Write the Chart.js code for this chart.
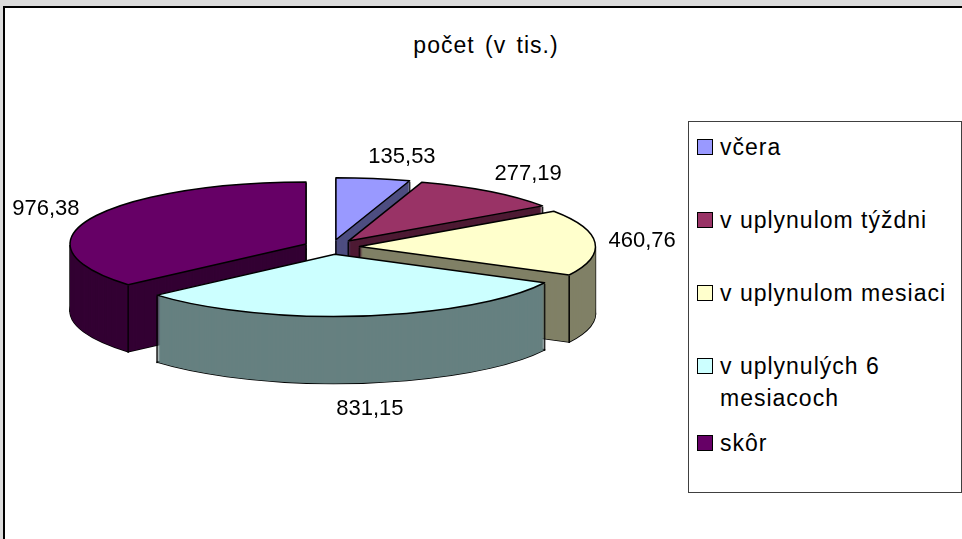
<!DOCTYPE html>
<html>
<head>
<meta charset="utf-8">
<script src="https://cdn.jsdelivr.net/npm/chart.js@4"></script>
<style>
  html, body { margin: 0; padding: 0; }
  body { width: 962px; height: 539px; overflow: hidden; background: #dcdcdc; position: relative; font-family: "Liberation Sans", Arial, sans-serif; }
  #frame { position: absolute; left: 3px; top: 6px; width: 1000px; height: 600px; background: #fff; border-top: 2px solid #000; border-left: 2px solid #000; }
  #title { position: absolute; left: 0; width: 972px; top: 32px; text-align: center; font-size: 23px; letter-spacing: 1px; word-spacing: 3px; color: #000; }
  #pie { position: absolute; left: 0; top: 0; }
  #legend { position: absolute; left: 688px; top: 121px; width: 274px; height: 372px; box-sizing: border-box; border: 1px solid #404040; background: #fff; padding: 9px 0 0 8px; }
  .item { display: flex; align-items: flex-start; font-size: 23px; line-height: 32px; letter-spacing: 1px; margin-bottom: 41px; color: #000; }
  .item:nth-child(4) { margin-bottom: 13px; }
  .sw { width: 14px; height: 14px; border: 1px solid #000; margin: 8px 7px 0 0; flex: none; }
</style>
</head>
<body>
<div id="frame"></div>
<div id="title">počet (v tis.)</div>
<canvas id="pie" width="962" height="539"></canvas>
<div id="legend"></div>
<script>
const categories = ['včera', 'v uplynulom týždni', 'v uplynulom mesiaci', 'v uplynulých 6 mesiacoch', 'skôr'];
const values = [135.53, 277.19, 460.76, 831.15, 976.38];
const topColors = ['#9999ff', '#993366', '#ffffcc', '#ccffff', '#660066'];
const sideColors = ['#4d4d80', '#4d1a33', '#808066', '#668080', '#330033'];

// look of the 3d pie
const RATIO = 0.263;   // vertical squash of the disc
const DEPTH = 67;      // thickness in px
const EXPLODE = 28;    // slice pull-out
const LGAP = 22;       // label distance

const fmt = v => v.toFixed(2).replace('.', ',');

// legend (html so it can wrap like the original)
const legend = document.getElementById('legend');
categories.forEach((c, i) => {
  const row = document.createElement('div');
  row.className = 'item';
  const sw = document.createElement('div');
  sw.className = 'sw';
  sw.style.background = topColors[i];
  const t = document.createElement('div');
  t.textContent = c;
  row.appendChild(sw);
  row.appendChild(t);
  legend.appendChild(row);
});

const pie3d = {
  id: 'pie3d',
  beforeDatasetsDraw(chart) {
    const ctx = chart.ctx;
    const arcs = chart.getDatasetMeta(0).data;
    const slices = arcs.map((arc, i) => {
      const p = arc.getProps(['x', 'y', 'startAngle', 'endAngle', 'outerRadius'], true);
      const mid = (p.startAngle + p.endAngle) / 2;
      return Object.assign({}, p, { i, mid, ox: p.x + Math.cos(mid) * EXPLODE, oy: p.y + Math.sin(mid) * EXPLODE });
    });
    const cy = slices[0].y;
    const pt = (x, y, k) => [x, cy + (y - cy) * RATIO + k];

    const path = (s, k) => {
      ctx.save();
      ctx.translate(0, k + cy);
      ctx.scale(1, RATIO);
      ctx.translate(0, -cy);
      ctx.beginPath();
      ctx.moveTo(s.ox, s.oy);
      ctx.arc(s.ox, s.oy, s.outerRadius, s.startAngle, s.endAngle);
      ctx.closePath();
      ctx.restore();
    };

    // points where a vertical edge may show: apex, both arc ends, left/right extremes
    const corners = s => {
      const pts = [[s.ox, s.oy]];
      const angs = [s.startAngle, s.endAngle];
      [0, Math.PI].forEach(a => { if (a > s.startAngle && a < s.endAngle) angs.push(a); });
      angs.forEach(a => pts.push([s.ox + Math.cos(a) * s.outerRadius, s.oy + Math.sin(a) * s.outerRadius]));
      return pts;
    };

    ctx.save();
    ctx.lineJoin = 'round';
    ctx.strokeStyle = '#000';
    ctx.lineWidth = 1.5;

    // bottom outline
    slices.forEach(s => {
      path(s, DEPTH);
      ctx.fillStyle = sideColors[s.i];
      ctx.fill();
      ctx.stroke();
    });

    // sides, layer by layer from the bottom up
    for (let k = DEPTH; k >= 1; k--) {
      slices.forEach(s => {
        path(s, k);
        ctx.fillStyle = sideColors[s.i];
        ctx.fill();
        ctx.fillStyle = '#000';
        corners(s).forEach(([x, y]) => {
          const [px, py] = pt(x, y, k);
          ctx.fillRect(px - 0.75, py, 1.5, 1);
        });
      });
    }

    // tops
    slices.forEach(s => {
      path(s, 0);
      ctx.fillStyle = topColors[s.i];
      ctx.fill();
      ctx.stroke();
    });

    // value labels
    ctx.font = '22px "Liberation Sans", Arial, sans-serif';
    ctx.fillStyle = '#000';
    ctx.textAlign = 'center';
    ctx.textBaseline = 'middle';
    slices.forEach(s => {
      const dx = Math.cos(s.mid), dy = Math.sin(s.mid);
      const [ex, ey] = pt(s.ox + dx * s.outerRadius, s.oy + dy * s.outerRadius, 0);
      const text = fmt(values[s.i]);
      const w = ctx.measureText(text).width;
      const lx = dy > 0.5 ? ex + dx * (LGAP + w / 2) : ex + dx * LGAP + Math.sign(dx) * w * 0.375;
      const ly = ey + dy * LGAP + (dy > 0 ? DEPTH + 4 : 0);
      ctx.fillText(text, lx, ly);
    });
    ctx.restore();
    return false;
  }
};

new Chart(document.getElementById('pie'), {
  type: 'pie',
  data: {
    labels: categories,
    datasets: [{ data: values, backgroundColor: topColors, borderWidth: 0 }]
  },
  options: {
    responsive: false,
    animation: false,
    events: [],
    radius: 236,
    layout: { padding: { left: 0, right: 299, top: 0, bottom: 45 } },
    plugins: {
      legend: { display: false },
      tooltip: { enabled: false }
    }
  },
  plugins: [pie3d]
});
</script>
</body>
</html>
